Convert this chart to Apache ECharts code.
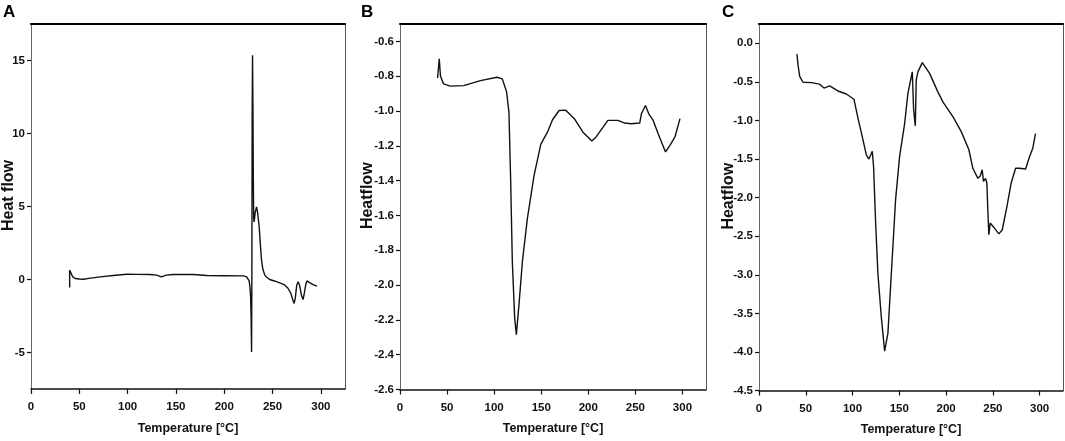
<!DOCTYPE html>
<html>
<head>
<meta charset="utf-8">
<script src="https://cdn.jsdelivr.net/npm/echarts@6/dist/echarts.min.js"></script>
<style>
html,body{margin:0;padding:0;background:#fff;}
#chart{width:1065px;height:441px;}
</style>
</head>
<body>
<div id="chart"></div>
<script>
// ---- data ----
var panelLetters = ['A', 'B', 'C'];
var yNames = ['Heat flow', 'Heatflow', 'Heatflow'];
var xName = 'Temperature [°C]';
var xTicks = [0, 50, 100, 150, 200, 250, 300];
var yTicksA = [-5, 0, 5, 10, 15];
var yTicksB = [-2.6, -2.4, -2.2, -2.0, -1.8, -1.6, -1.4, -1.2, -1.0, -0.8, -0.6];
var yTicksC = [-4.5, -4.0, -3.5, -3.0, -2.5, -2.0, -1.5, -1.0, -0.5, 0.0];

var tempA = [40,40,41,43,45.8,50,54.4,60,71.6,85,99,110,123,130,135,140,147,160,168,182,200,219.6,223,224.8,225.8,226.6,227.3,227.8,228.3,228.6,228.9,229.3,229.7,230.1,230.5,231,232,233.5,234.5,236.2,237.5,238.6,240,242,244,247,252,257.5,262,266,269,271,272.3,273.5,275,276.5,278,280,281.6,283,284.5,285.7,288,292,296];
var flowA = [-0.55,0.64,0.5,0.2,0.07,0.03,0.02,0.08,0.18,0.27,0.36,0.35,0.34,0.3,0.18,0.3,0.34,0.34,0.34,0.27,0.26,0.25,0.2,0.1,-0.1,-0.5,-1.2,-2.5,-4.96,0,11,15.36,12,7,4.2,3.95,4.6,4.97,4.6,3.6,2.3,1.32,0.7,0.3,0.15,0,-0.1,-0.23,-0.35,-0.6,-0.95,-1.4,-1.64,-1.3,-0.4,-0.16,-0.4,-1.1,-1.37,-0.9,-0.3,-0.1,-0.2,-0.35,-0.46];

var tempB = [39.9,41.7,43,46.3,53.4,67.6,85.5,103,108.6,113.2,115.7,117.5,119.3,121.8,123.6,126.4,130,135.3,142.4,149.6,156.7,162,169,176,185.2,194.1,203.7,208.3,220.8,231.5,238.6,245.7,254.6,256.4,260.7,264.2,268.9,274.2,282,286.7,292,297.4];
var flowB = [-0.81,-0.70,-0.8,-0.844,-0.857,-0.854,-0.825,-0.806,-0.815,-0.89,-1.006,-1.39,-1.865,-2.19,-2.285,-2.11,-1.865,-1.617,-1.37,-1.19,-1.12,-1.05,-0.997,-0.995,-1.044,-1.12,-1.172,-1.149,-1.054,-1.054,-1.069,-1.073,-1.069,-1.016,-0.968,-1.016,-1.054,-1.13,-1.235,-1.197,-1.149,-1.044];

var tempC = [40.6,41.7,43.5,47,56,64.8,69.5,75.5,84.4,93.4,101.5,105.8,110.4,114.7,117.5,121.1,122.5,124.7,127.1,130.7,134.3,137.8,141.5,146,150.3,155.7,159.2,163.9,165.3,167.1,168.1,169.9,174.6,182.4,191.2,196.6,207.3,216.2,224.4,228.6,234,236.5,238.6,240,242.2,243.6,244.7,245.7,247.2,250.7,256.4,260,265,269.6,274.3,278.5,285,289.2,292.7,295.6];
var flowC = [-0.14,-0.28,-0.43,-0.505,-0.51,-0.53,-0.58,-0.553,-0.618,-0.657,-0.725,-0.97,-1.21,-1.447,-1.5,-1.4,-1.6,-2.33,-2.98,-3.54,-3.99,-3.76,-2.98,-2.03,-1.47,-1.04,-0.65,-0.37,-0.86,-1.07,-0.475,-0.37,-0.25,-0.39,-0.63,-0.76,-0.95,-1.145,-1.38,-1.62,-1.75,-1.72,-1.64,-1.79,-1.75,-1.81,-2.18,-2.48,-2.33,-2.38,-2.47,-2.42,-2.12,-1.81,-1.62,-1.62,-1.63,-1.47,-1.36,-1.17];

// ---- chart construction ----
var sans = '"Liberation Sans", Arial, sans-serif';
var panels = [
  {t: tempA, f: flowA, yTicks: yTicksA, yMin: -7.5, yMax: 17.5, fmt: function (v) { return String(v); },
   grid: {left: 31, right: 720, top: 24, bottom: 52}, nameGap: 14.5, letterLeft: -2},
  {t: tempB, f: flowB, yTicks: yTicksB, yMin: -2.6, yMax: -0.5, fmt: function (v) { return v.toFixed(1); },
   grid: {left: 400, right: 359, top: 24, bottom: 51.5}, nameGap: 24.5, letterLeft: 356},
  {t: tempC, f: flowC, yTicks: yTicksC, yMin: -4.5, yMax: 0.25, fmt: function (v) { return v.toFixed(1); },
   grid: {left: 759, right: 2, top: 24, bottom: 50.5}, nameGap: 22.5, letterLeft: 717}
];

var grids = [], xAxes = [], yAxes = [], series = [], titles = [];
panels.forEach(function (p, i) {
  grids.push(Object.assign({containLabel: false, outerBoundsMode: 'none'}, p.grid));
  titles.push({text: panelLetters[i], left: p.letterLeft, top: -1,
    textStyle: {fontFamily: sans, fontWeight: 'bold', fontSize: 17, color: '#000'}});
  xAxes.push({
    type: 'value', gridIndex: i, position: 'bottom', min: 0, max: 325,
    name: xName, nameLocation: 'middle', nameGap: 33, nameMoveOverlap: false,
    nameTextStyle: {fontFamily: sans, fontWeight: 'bold', fontSize: 12.5, color: '#111'},
    axisLine: {show: true, onZero: false, lineStyle: {color: '#111', width: 1.5}},
    axisTick: {show: true, inside: false, length: 5, customValues: xTicks, lineStyle: {color: '#111', width: 1.2}},
    axisLabel: {show: true, margin: 12, customValues: xTicks, fontFamily: sans, fontWeight: 'bold', fontSize: 11.5, color: '#111'},
    splitLine: {show: false}
  });
  xAxes.push({
    type: 'value', gridIndex: i, position: 'top', min: 0, max: 325,
    axisLine: {show: true, onZero: false, lineStyle: {color: '#000', width: 2.2}},
    axisTick: {show: false}, axisLabel: {show: false}, splitLine: {show: false}
  });
  yAxes.push({
    type: 'value', gridIndex: i, position: 'left', min: p.yMin, max: p.yMax,
    name: yNames[i], nameLocation: 'middle', nameGap: p.nameGap, nameMoveOverlap: false,
    nameTextStyle: {fontFamily: sans, fontWeight: 'bold', fontSize: 16, color: '#111', padding: [0, 0, 0, 22]},
    axisLine: {show: true, onZero: false, lineStyle: {color: '#666', width: 1}},
    axisTick: {show: true, inside: false, length: 4, customValues: p.yTicks, lineStyle: {color: '#111', width: 1.2}},
    axisLabel: {show: true, margin: 6, customValues: p.yTicks, formatter: p.fmt, fontFamily: sans, fontWeight: 'bold', fontSize: 11.5, color: '#111'},
    splitLine: {show: false}
  });
  yAxes.push({
    type: 'value', gridIndex: i, position: 'right', min: p.yMin, max: p.yMax,
    axisLine: {show: true, onZero: false, lineStyle: {color: '#555', width: 1}},
    axisTick: {show: false}, axisLabel: {show: false}, splitLine: {show: false}
  });
  series.push({
    type: 'line', xAxisIndex: 2 * i, yAxisIndex: 2 * i,
    data: p.t.map(function (t, k) { return [t, p.f[k]]; }),
    showSymbol: false, symbol: 'none', smooth: false,
    lineStyle: {color: '#111', width: 1.4}
  });
});

var chart = echarts.init(document.getElementById('chart'), null, {renderer: 'canvas'});
chart.setOption({
  animation: false,
  backgroundColor: '#fff',
  title: titles,
  grid: grids,
  xAxis: xAxes,
  yAxis: yAxes,
  series: series
});
</script>
</body>
</html>
